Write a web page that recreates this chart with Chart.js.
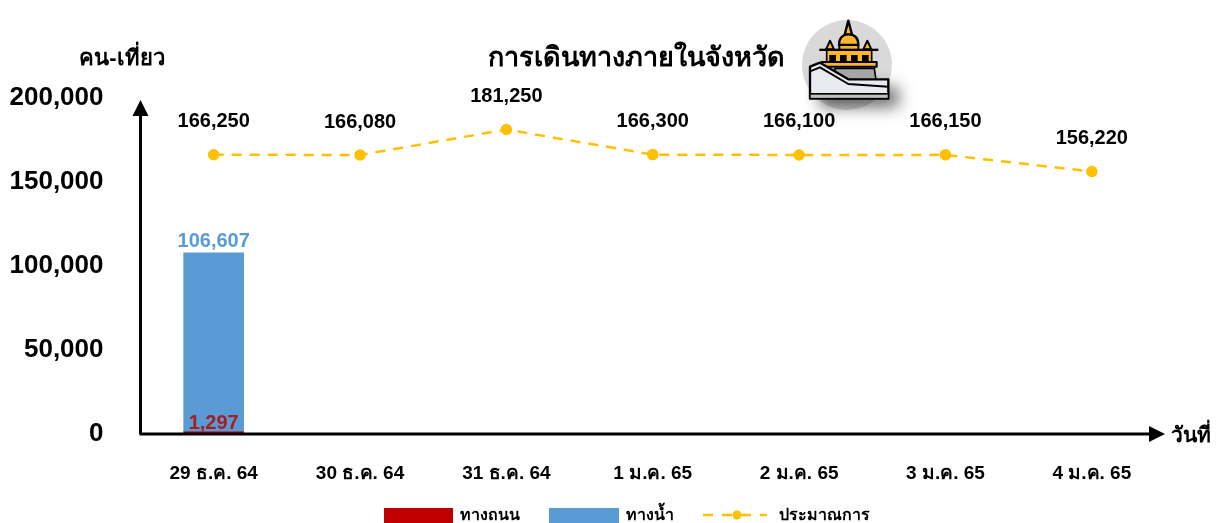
<!DOCTYPE html>
<html><head><meta charset="utf-8">
<style>html,body{margin:0;padding:0;background:#fff}#w{width:1225px;height:523px;position:relative}</style>
<script src="https://cdn.jsdelivr.net/npm/chart.js@4/dist/chart.umd.min.js"></script>
</head><body><div id="w"><canvas id="c" width="1225" height="523"></canvas></div>
<script>
const categories = ["29 ธ.ค. 64","30 ธ.ค. 64","31 ธ.ค. 64","1 ม.ค. 65","2 ม.ค. 65","3 ม.ค. 65","4 ม.ค. 65"];
const roadValues = [1297,null,null,null,null,null,null];
const waterValues = [106607,null,null,null,null,null,null];
const estimateValues = [166250,166080,181250,166300,166100,166150,156220];
const yTicks = [0,50000,100000,150000,200000];
const titleText = "การเดินทางภายในจังหวัด";
const yAxisTitle = "คน-เที่ยว";
const xAxisTitle = "วันที่";
const RED="#C00000", BLUE="#5B9BD5", GOLD="#FFC000";
const FF = '"Liberation Sans","Noto Sans",Arial,sans-serif';
const fmt = v => v.toLocaleString("en-US");

function text(ctx,s,x,y,size,color,align){
  ctx.font = `bold ${size}px ${FF}`; ctx.fillStyle=color||"#000";
  ctx.textAlign=align||"center"; ctx.textBaseline="middle"; ctx.fillText(s,x,y);
}
function icon(ctx){
  ctx.save(); ctx.translate(780,0); ctx.scale(1/3,1/3);
  const K="#000", Y="#FFB628";
  ctx.lineJoin="round";
  ctx.fillStyle="#D9D9D9"; ctx.beginPath(); ctx.arc(201,195,135,0,Math.PI*2); ctx.fill();
  const poly=(p,f,lw)=>{ctx.beginPath();p.forEach((q,i)=>i?ctx.lineTo(q[0],q[1]):ctx.moveTo(q[0],q[1]));ctx.closePath();
    if(f){ctx.fillStyle=f;ctx.fill();} if(lw){ctx.lineWidth=lw;ctx.strokeStyle=K;ctx.stroke();}};
  // shadow of the stairs
  ctx.save(); ctx.shadowColor="rgba(0,0,0,.6)"; ctx.shadowBlur=16; ctx.shadowOffsetX=10; ctx.shadowOffsetY=8;
  poly([[90,200],[120,188],[205,238],[325,238],[325,296],[90,296]],"#E7EBF0");
  ctx.restore();
  // spire and dome
  poly([[205,62],[194,104],[216,104]],Y,7);
  ctx.beginPath(); ctx.moveTo(177,135); ctx.bezierCurveTo(177,112,190,103,205,103); ctx.bezierCurveTo(222,103,235,112,235,135); ctx.closePath();
  ctx.fillStyle=Y; ctx.fill(); ctx.lineWidth=7; ctx.strokeStyle=K; ctx.stroke();
  poly([[150,122],[138,148],[162,148]],Y,6);
  poly([[262,122],[250,148],[274,148]],Y,6);
  poly([[178,135],[235,135],[235,150],[178,150]],Y,6);
  // gallery
  poly([[140,150],[275,150],[275,188],[140,188]],Y,5);
  ctx.fillStyle=K; ctx.fillRect(118,146,177,7);
  [148,180,213,246].forEach(x=>ctx.fillRect(x,165,20,22));
  poly([[165,205],[283,205],[288,240],[165,240]],"#A6A6A6",5);
  poly([[125,186],[290,186],[290,200],[125,200]],Y,6);
  // stairs
  poly([[90,200],[120,188],[205,238],[325,238],[325,296],[90,296]],"#E7EBF0",7);
  ctx.lineWidth=6; ctx.strokeStyle=K; ctx.beginPath(); ctx.moveTo(90,214); ctx.lineTo(120,202); ctx.lineTo(205,252); ctx.lineTo(325,260); ctx.stroke();
  ctx.fillStyle="#BFBFBF"; ctx.fillRect(92,283,231,10);
  ctx.fillStyle=K; ctx.fillRect(90,279,235,5);
  ctx.restore();
}
const overlay = {
  id:"overlay",
  afterDatasetsDraw(chart){
    const {ctx,scales:{x,y}} = chart;
    const y0=y.getPixelForValue(0), xL=x.left, xR=x.right;
    ctx.save();
    // axes with arrowheads
    ctx.strokeStyle="#000"; ctx.fillStyle="#000"; ctx.lineWidth=3;
    ctx.beginPath(); ctx.moveTo(xL-1,y0); ctx.lineTo(xR-8,y0); ctx.moveTo(xL,y0); ctx.lineTo(xL,y.top+12); ctx.stroke();
    ctx.beginPath(); ctx.moveTo(xR,y0); ctx.lineTo(xR-16,y0-8); ctx.lineTo(xR-16,y0+8); ctx.closePath(); ctx.fill();
    ctx.beginPath(); ctx.moveTo(xL,y.top+2); ctx.lineTo(xL-8,y.top+18); ctx.lineTo(xL+8,y.top+18); ctx.closePath(); ctx.fill();
    // data labels
    const road=chart.getDatasetMeta(0), water=chart.getDatasetMeta(1), est=chart.getDatasetMeta(2);
    roadValues.forEach((v,i)=>{ if(v!=null) text(ctx,fmt(v),road.data[i].x,y0-11,20,"#A81E1E"); });
    waterValues.forEach((v,i)=>{ if(v!=null) text(ctx,fmt(v),water.data[i].x,water.data[i].y-11,20,BLUE); });
    estimateValues.forEach((v,i)=>text(ctx,fmt(v),est.data[i].x,est.data[i].y-33,20,"#000"));
    // titles
    text(ctx,titleText,636,59,27,"#000");
    text(ctx,yAxisTitle,122,59,22,"#000");
    text(ctx,xAxisTitle,1191,436,21,"#000");
    icon(ctx);
    // legend
    const ly=516;
    ctx.fillStyle=RED; ctx.fillRect(384,508,69,15);
    ctx.fillStyle=BLUE; ctx.fillRect(549,508,70,15);
    text(ctx,chart.data.datasets[0].label,460,ly,16,"#000","left");
    text(ctx,chart.data.datasets[1].label,626,ly,16,"#000","left");
    ctx.strokeStyle=GOLD; ctx.lineWidth=2.5; ctx.setLineDash([10,9]);
    ctx.beginPath(); ctx.moveTo(703,ly-1); ctx.lineTo(767,ly-1); ctx.stroke(); ctx.setLineDash([]);
    ctx.fillStyle=GOLD; ctx.beginPath(); ctx.arc(737,ly-1,4.5,0,Math.PI*2); ctx.fill();
    text(ctx,chart.data.datasets[2].label,779,ly,16,"#000","left");
    ctx.restore();
  }
};
new Chart(document.getElementById("c"),{
  data:{labels:categories,datasets:[
    {type:"bar",label:"ทางถนน",data:roadValues,backgroundColor:RED,barThickness:60,stack:"s",order:2},
    {type:"bar",label:"ทางน้ำ",data:waterValues,backgroundColor:BLUE,barThickness:60,stack:"s",order:2},
    {type:"line",label:"ประมาณการ",data:estimateValues,borderColor:GOLD,backgroundColor:GOLD,borderWidth:2.5,borderDash:[10,8],pointRadius:4.5,pointHoverRadius:4.5,tension:0,fill:false,order:1}
  ]},
  options:{
    responsive:false,animation:false,
    layout:{padding:{top:98,right:60,left:0,bottom:0}},
    plugins:{legend:{display:false},tooltip:{enabled:false},title:{display:false}},
    scales:{
      x:{stacked:true,grid:{display:false},border:{display:false},
        ticks:{color:"#000",font:{family:FF,size:19,weight:"bold"},padding:20,maxRotation:0,autoSkip:false},
        afterFit(s){s.height=89;}},
      y:{stacked:true,min:0,max:200000,grid:{display:false},border:{display:false},
        afterBuildTicks(s){s.ticks=yTicks.map(v=>({value:v}));},
        ticks:{color:"#000",font:{family:FF,size:26,weight:"bold"},padding:29,callback:v=>fmt(v)},
        afterFit(s){s.width=140.5;}}
    }
  },
  plugins:[overlay]
});
</script></body></html>
